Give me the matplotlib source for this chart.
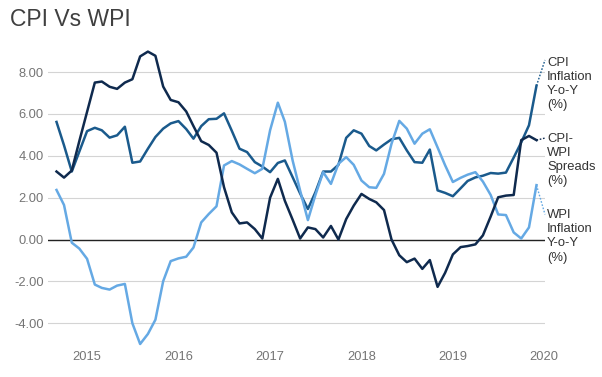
import numpy as np
import pandas as pd
import matplotlib
matplotlib.use("Agg")
import matplotlib.pyplot as plt
import matplotlib.dates as mdates
import matplotlib.transforms as mtransforms

plt.rcParams['font.family'] = ['Liberation Sans', 'DejaVu Sans']

# monthly readings, Sep 2014 .. Dec 2019
months = pd.date_range("2014-09-01", "2019-12-01", freq="MS")

cpi = [5.62, 4.50, 3.25, 4.20, 5.18, 5.34, 5.22, 4.87, 4.98, 5.39,
       3.67, 3.73, 4.34, 4.90, 5.30, 5.55, 5.66, 5.28, 4.82, 5.42,
       5.75, 5.77, 6.03, 5.20, 4.34, 4.18, 3.70, 3.49, 3.22, 3.66,
       3.78, 2.98, 2.20, 1.46, 2.26, 3.25, 3.25, 3.57, 4.86, 5.22,
       5.06, 4.47, 4.26, 4.54, 4.79, 4.86, 4.26, 3.70, 3.67, 4.30,
       2.35, 2.23, 2.07, 2.45, 2.80, 2.97, 3.05, 3.18, 3.15, 3.20,
       3.92, 4.64, 5.46, 7.35]

wpi = [2.37, 1.65, -0.15, -0.43, -0.92, -2.15, -2.31, -2.39, -2.20, -2.12,
       -4.00, -4.99, -4.51, -3.83, -1.99, -1.03, -0.90, -0.82, -0.38, 0.82,
       1.22, 1.59, 3.54, 3.75, 3.59, 3.38, 3.17, 3.38, 5.22, 6.54,
       5.63, 3.78, 2.34, 0.93, 2.13, 3.22, 2.66, 3.62, 3.94, 3.57,
       2.82, 2.50, 2.47, 3.14, 4.58, 5.67, 5.30, 4.58, 5.06, 5.27,
       4.40, 3.55, 2.75, 2.95, 3.10, 3.22, 2.77, 2.13, 1.20, 1.17,
       0.34, 0.05, 0.58, 2.60]

spread = [3.25, 2.96, 3.30, 4.70, 6.10, 7.50, 7.55, 7.30, 7.20, 7.50,
          7.66, 8.75, 8.98, 8.78, 7.31, 6.67, 6.56, 6.12, 5.42, 4.70,
          4.52, 4.15, 2.50, 1.30, 0.77, 0.82, 0.50, 0.05, 2.00, 2.90,
          1.85, 0.95, 0.05, 0.58, 0.50, 0.10, 0.65, 0.00, 0.98, 1.62,
          2.18, 1.94, 1.78, 1.41, 0.00, -0.75, -1.08, -0.91, -1.40, -0.98,
          -2.26, -1.59, -0.71, -0.36, -0.31, -0.23, 0.20, 1.10, 2.02, 2.10,
          2.13, 4.75, 4.95, 4.75]

yticks = [-4, -2, 0, 2, 4, 6, 8]
years = ["2015", "2016", "2017", "2018", "2019", "2020"]

c_cpi = "#1a5a8c"
c_spread = "#0f2a4e"
c_wpi = "#65a9e4"
grey = "#757575"

fig = plt.figure(figsize=(6.02, 3.77), dpi=100)
ax = fig.add_axes([48 / 602, 1 - 348.4 / 377, (545 - 48) / 602, (348.4 - 47) / 377])

ax.plot(months, cpi, color=c_cpi, lw=1.8, zorder=3)
ax.plot(months, wpi, color=c_wpi, lw=1.8, zorder=3)
ax.plot(months, spread, color=c_spread, lw=1.8, zorder=4)

x0 = months[0] - pd.Timedelta(days=34)
x1 = months[-1] + pd.Timedelta(days=34)
ax.set_xlim(x0, x1)
ax.set_ylim(-5.2, 9.2)

ax.axhline(0, color="#222222", lw=1.0, zorder=2)
ax.set_yticks(yticks)
ax.set_yticklabels([f"{v:.2f}" for v in yticks])
ax.yaxis.grid(True, color="#d4d4d4", lw=0.8)
ax.set_axisbelow(True)

ax.set_xticks([pd.Timestamp(f"{y}-01-01") for y in years])
ax.set_xticklabels(years)
ax.tick_params(axis="both", length=0, labelsize=9.3, labelcolor=grey)
ax.tick_params(axis="y", pad=3.2)
ax.tick_params(axis="x", pad=1.8)
for s in ax.spines.values():
    s.set_visible(False)

# series labels on the right, joined with dotted leaders
last = months[-1]
ax.plot([last, x1], [cpi[-1], 8.58], color=c_cpi, lw=1, ls=(0, (1.2, 1.2)), clip_on=False)
ax.plot([last, x1], [spread[-1], 4.85], color=c_spread, lw=1, ls=(0, (1.2, 1.2)), clip_on=False)
ax.plot([last, x1], [wpi[-1], 1.2], color=c_wpi, lw=1, ls=(0, (1.2, 1.2)), clip_on=False)

tr = mtransforms.blended_transform_factory(ax.transAxes, ax.transData)
lab = dict(transform=tr, ha="left", va="center", fontsize=9.4, color="#333333",
           clip_on=False, linespacing=1.25)
ax.text(1.004, 7.43, "CPI\nInflation\nY-o-Y\n(%)", **lab)
ax.text(1.004, 3.80, "CPI-\nWPI\nSpreads\n(%)", **lab)
ax.text(1.004, 0.16, "WPI\nInflation\nY-o-Y\n(%)", **lab)

fig.text(10 / 602, 1 - 20 / 377, "CPI Vs WPI", fontsize=16.5, color="#404040",
         ha="left", va="center")

fig.savefig("out.png", dpi=100)
